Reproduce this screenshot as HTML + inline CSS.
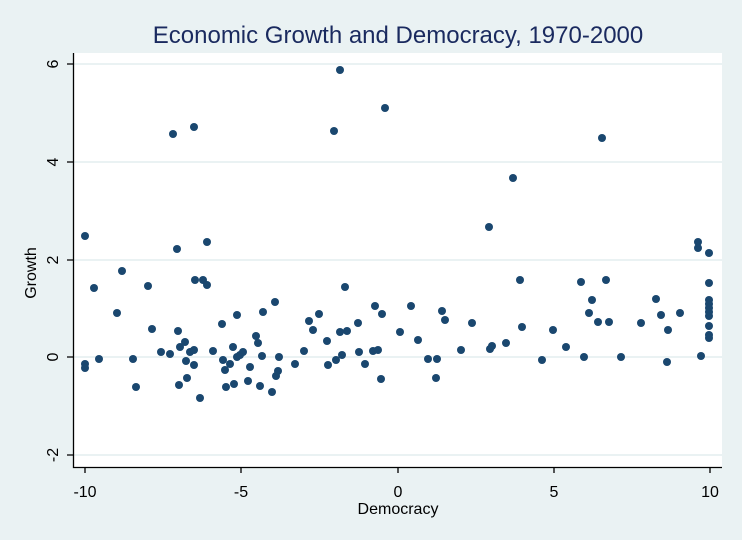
<!DOCTYPE html><html><head><style>html,body{margin:0;padding:0;overflow:hidden;background:#eaf2f3}svg{display:block}</style></head><body>
<svg width="742" height="540" xmlns="http://www.w3.org/2000/svg" font-family="Liberation Sans, sans-serif">
<rect width="742" height="540" fill="#eaf2f3"/>
<rect x="73" y="53" width="649" height="414" fill="#fff"/>
<g stroke="#eaf2f3" stroke-width="2">
<line x1="73" x2="722" y1="64" y2="64"/><line x1="73" x2="722" y1="162" y2="162"/><line x1="73" x2="722" y1="260" y2="260"/><line x1="73" x2="722" y1="357" y2="357"/><line x1="73" x2="722" y1="455" y2="455"/></g>
<g stroke="#000" stroke-width="1.3" fill="none">
<path d="M73.5 53V467.5H722"/>
<path d="M67 64H73M67 162H73M67 260H73M67 357H73M67 455H73"/>
<path d="M85 467V473M241 467V473M398 467V473M554 467V473M710 467V473"/></g>
<g font-size="16" fill="#000" text-anchor="middle">
<text x="85" y="497">-10</text><text x="241" y="497">-5</text><text x="398" y="497">0</text><text x="554" y="497">5</text><text x="710" y="497">10</text>
<text x="398" y="514">Democracy</text>
<g transform="rotate(-90)"><text x="-64" y="58">6</text><text x="-162" y="58">4</text><text x="-260" y="58">2</text><text x="-357" y="58">0</text><text x="-455" y="58">-2</text><text x="-273" y="36">Growth</text></g>
</g>
<text x="398" y="43" font-size="24" fill="#1a2a5f" text-anchor="middle">Economic Growth and Democracy, 1970-2000</text>
<g fill="#1a476f" id="d"></g>
</svg>
<script>
var p=[[85,236],[85,364],[85,368],[94,288],[99,359],[117,313],[122,271],[133,359],[136,387],[148,286],[152,329],[161,352],[170,354],[173,134],[177,249],[178,331],[179,385],[180,347],[185,342],[186,361],[187,378],[190,352],[194,127],[194,365],[195,280],[194,350],[200,398],[203,280],[207,242],[207,285],[213,351],[222,324],[223,360],[225,370],[226,387],[230,364],[233,347],[234,384],[237,315],[237,357],[240,355],[243,352],[248,381],[250,367],[256,336],[258,343],[260,386],[263,312],[262,356],[272,392],[275,302],[276,376],[278,371],[279,357],[295,364],[304,351],[309,321],[313,330],[319,314],[327,341],[328,365],[334,131],[336,360],[340,70],[340,332],[342,355],[345,287],[347,331],[358,323],[359,352],[365,364],[373,351],[375,306],[378,350],[381,379],[382,314],[385,108],[400,332],[411,306],[418,340],[428,359],[436,378],[437,359],[442,311],[445,320],[461,350],[472,323],[489,227],[490,349],[492,346],[506,343],[513,178],[520,280],[522,327],[542,360],[553,330],[566,347],[581,282],[584,357],[589,313],[592,300],[598,322],[602,138],[606,280],[609,322],[621,357],[641,323],[656,299],[661,315],[667,362],[668,330],[680,313],[698,242],[698,248],[701,356],[709,253],[709,283],[709,300],[709,304],[709,308],[709,312],[709,316],[709,326],[709,335],[709,338]];
var g=document.getElementById('d'),s='';p.forEach(function(q){s+='<circle cx="'+q[0]+'" cy="'+q[1]+'" r="4"/>'});g.innerHTML=s;
</script>
</body></html>
